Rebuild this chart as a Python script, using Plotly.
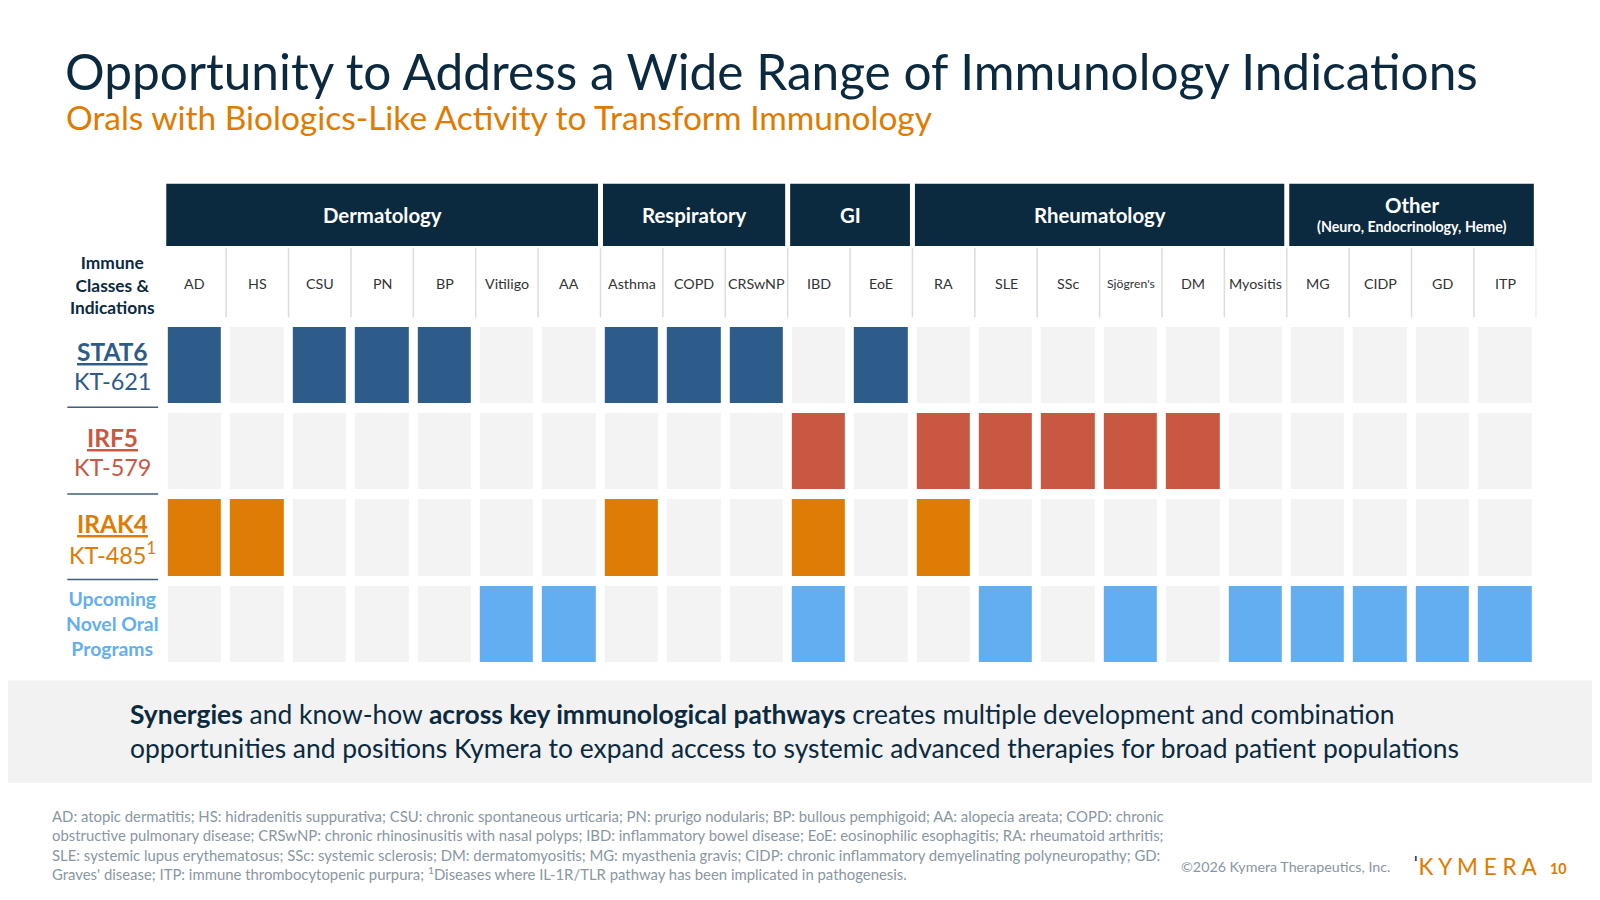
import plotly.graph_objects as go

W, H = 1600, 900
S = 1600 / 1568  # reference measured on a 1568-wide picture
OFF = 8          # page margin of the browser
NAVY = "#0b2a3f"
FONT = "Lato, 'Open Sans', sans-serif"

indications = ["AD", "HS", "CSU", "PN", "BP", "Vitiligo", "AA",
               "Asthma", "COPD", "CRSwNP", "IBD", "EoE",
               "RA", "SLE", "SSc", "Sjögren's", "DM", "Myositis",
               "MG", "CIDP", "GD", "ITP"]
groups = ["Dermatology", "Respiratory", "GI", "Rheumatology", "Other"]
group_sizes = [7, 3, 2, 6, 4]

stat6 = ["AD", "CSU", "PN", "BP", "Asthma", "COPD", "CRSwNP", "EoE"]
irf5 = ["IBD", "RA", "SLE", "SSc", "Sjögren's", "DM"]
irak4 = ["AD", "HS", "Asthma", "IBD", "RA"]
upcoming = ["Vitiligo", "AA", "IBD", "SLE", "Sjögren's", "Myositis", "MG", "CIDP", "GD", "ITP"]
programs = [stat6, irf5, irak4, upcoming]
colors = ["#f3f3f3", "#2d5b8a", "#c85841", "#df7c05", "#63aef0"]


def px(x):
    return (x * S - OFF) / W


def py(y):
    return 1 - (y * S - OFF) / H


def label(x, y, text, size, color, xref="paper", xanchor="center", align="center"):
    return dict(x=x, y=y, xref=xref, yref="paper", showarrow=False, text=text,
                xanchor=xanchor, yanchor="middle", align=align,
                font=dict(size=size * S, color=color, family=FONT))


z = [[(r + 1) if ind in prog else 0 for ind in indications] for r, prog in enumerate(programs)]
cs = []
for i, c in enumerate(colors):
    cs += [[i / 5, c], [(i + 1) / 5, c]]

fig = go.Figure(go.Heatmap(
    z=z, x=list(range(len(indications))), y=[0, 1, 2, 3],
    colorscale=cs, zmin=-0.5, zmax=4.5, showscale=False,
    xgap=9, ygap=10, hoverinfo="skip"))

shapes = []
ann = []

# category headers
start = 0
for g, n in zip(groups, group_sizes):
    x0, x1 = start - 0.5 + 0.04, start + n - 0.5 - 0.04
    shapes.append(dict(type="rect", xref="x", yref="paper", x0=x0, x1=x1,
                       y0=py(241), y1=py(180), fillcolor=NAVY, line_width=0, layer="below"))
    if g == "Other":
        ann.append(label((x0 + x1) / 2, py(201), "<b>Other</b>", 20, "white", xref="x"))
        ann.append(label((x0 + x1) / 2, py(222), "<b>(Neuro, Endocrinology, Heme)</b>", 14, "white", xref="x"))
    else:
        ann.append(label((x0 + x1) / 2, py(211), "<b>" + g + "</b>", 20, "white", xref="x"))
    start += n

# column labels and separators
for i, ind in enumerate(indications):
    ann.append(label(i, py(278), ind, 12 if ind == "Sjögren's" else 14, "#333333", xref="x"))
    shapes.append(dict(type="line", xref="x", yref="paper", x0=i + 0.5, x1=i + 0.5,
                       y0=py(311), y1=py(243), line=dict(color="#dcdcdc", width=1.5)))

# row labels
row_info = [("STAT6", "KT-621", "#2d5b8a", 344), ("IRF5", "KT-579", "#c85841", 429),
            ("IRAK4", "KT-485<sup>1</sup>", "#df7c05", 513)]
for name, code, col, y in row_info:
    ann.append(label(px(110), py(y), "<b><u>" + name + "</u></b>", 24, col))
    ann.append(label(px(110), py(y + 29), code, 23, col))
for y in [399, 484, 568]:
    shapes.append(dict(type="line", xref="paper", yref="paper", x0=px(66), x1=px(155),
                       y0=py(y), y1=py(y), line=dict(color="#3f5f7a", width=1.5)))
ann.append(label(px(110), py(611), "<b>Upcoming<br>Novel Oral<br>Programs</b>", 19, "#63aef0"))
ann.append(label(px(110), py(279), "<b>Immune<br>Classes &<br>Indications</b>", 17, NAVY))

# titles
ann.append(label(px(62), py(70), "Opportunity to Address a Wide Range of Immunology Indications",
                 48.6, NAVY, xanchor="left"))
ann.append(label(px(63), py(115), "Orals with Biologics-Like Activity to Transform Immunology",
                 32.8, "#e07b00", xanchor="left"))

# takeaway band
shapes.append(dict(type="rect", xref="paper", yref="paper", x0=0, x1=1, y0=py(767), y1=py(667),
                   fillcolor="#f2f2f2", line_width=0, layer="below"))
ann.append(label(px(125), py(716),
                 "<b>Synergies</b> and know-how <b>across key immunological pathways</b> creates multiple development and combination<br>"
                 "opportunities and positions Kymera to expand access to systemic advanced therapies for broad patient populations",
                 25.9, NAVY, xanchor="left", align="left"))

# footer
footer = ("AD: atopic dermatitis; HS: hidradenitis suppurativa; CSU: chronic spontaneous urticaria; PN: prurigo nodularis; BP: bullous pemphigoid; AA: alopecia areata; COPD: chronic<br>"
          "obstructive pulmonary disease; CRSwNP: chronic rhinosinusitis with nasal polyps; IBD: inflammatory bowel disease; EoE: eosinophilic esophagitis; RA: rheumatoid arthritis;<br>"
          "SLE: systemic lupus erythematosus; SSc: systemic sclerosis; DM: dermatomyositis; MG: myasthenia gravis; CIDP: chronic inflammatory demyelinating polyneuropathy; GD:<br>"
          "Graves' disease; ITP: immune thrombocytopenic purpura; <sup>1</sup>Diseases where IL-1R/TLR pathway has been implicated in pathogenesis.")
ann.append(label(px(49), py(828), footer, 14.6, "#8a96a3", xanchor="left", align="left"))
ann.append(label(px(1364), py(849), "©2026 Kymera Therapeutics, Inc.", 14, "#8a96a3", xanchor="right"))
ann.append(label(px(1383), py(849), "<span style='color:#0b2a3f'>ˈ</span>K Y M E R A", 22, "#e07b00",
                 xanchor="left"))
ann.append(label(px(1527), py(851), "<b>10</b>", 14, "#e07b00"))

fig.update_layout(
    width=W, height=H, margin=dict(l=0, r=0, t=0, b=0),
    paper_bgcolor="white", plot_bgcolor="white",
    xaxis=dict(domain=[px(160.5), px(1505.6)], range=[-0.5, 21.5], visible=False, fixedrange=True),
    yaxis=dict(domain=[py(653.5), py(315.5)], range=[3.5, -0.5], visible=False, fixedrange=True),
    shapes=shapes, annotations=ann, font=dict(family=FONT),
)

fig.write_html("out.html")
